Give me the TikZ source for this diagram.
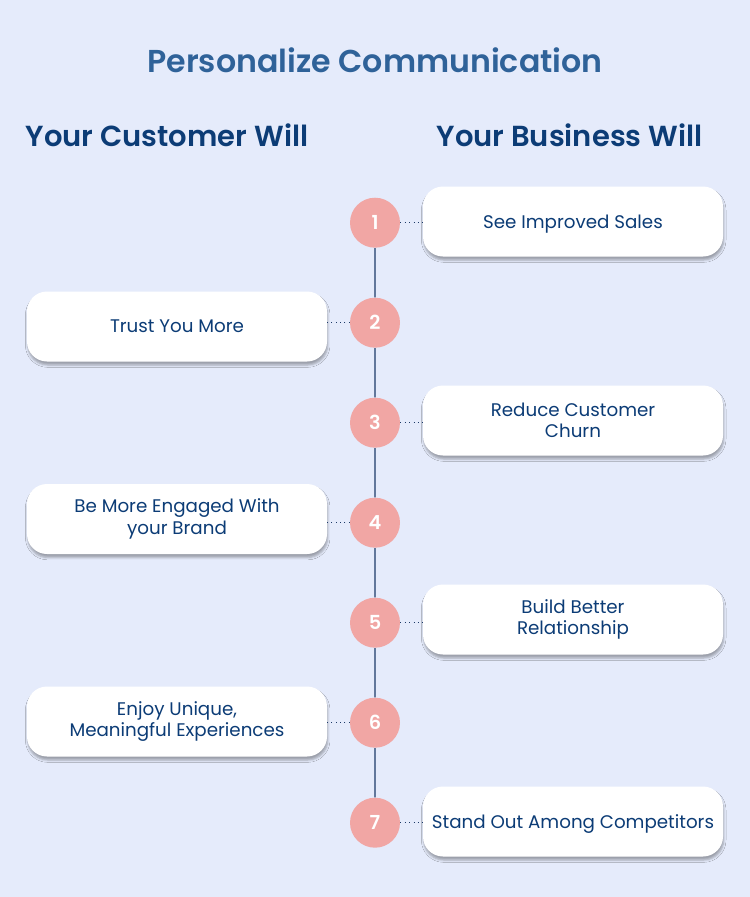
\documentclass[tikz,border=0pt]{standalone}
\usepackage{fontspec}
\setmainfont{Poppins}
\newfontfamily\headfont{Poppins SemiBold}
\usepackage{tikz}
\usetikzlibrary{shadows,shadows.blur}
\definecolor{bgblue}{HTML}{E5EBFB}
\definecolor{titleblue}{HTML}{2F6299}
\definecolor{navy}{HTML}{0C3C76}
\definecolor{pinkcirc}{HTML}{F1A6A4}
\definecolor{linenavy}{HTML}{1D3A68}

\begin{document}
\begin{tikzpicture}[scale=0.2]
	\tikzstyle{every node}+=[inner sep=0pt]
	\tikzstyle{maintitle}=[anchor=base, text=titleblue, font=\fontsize{18}{22}\headfont]
	\tikzstyle{sidehead}=[anchor=base, text=navy, font=\fontsize{16.5}{20}\headfont]
	\tikzstyle{item}=[fill=white, rounded corners=4mm, minimum width=60mm, minimum height=14mm, align=center, text=navy, font=\fontsize{10.4}{12.2}\selectfont, blur shadow={shadow xshift=0.4pt, shadow yshift=-2pt, shadow blur radius=1.3pt, shadow opacity=32}]
	\tikzstyle{oneline}=[text depth=0pt]
	\tikzstyle{num}=[circle, fill=pinkcirc, minimum size=10mm, text=white, font=\fontsize{11}{13}\headfont]
	\tikzstyle{link}=[linenavy, dotted, line width=0.5pt]
	\fill [bgblue] (0,0) rectangle (75,-89.7);
	\node [maintitle] (title) at (37.5,-7.2) {Personalize Communication};
	\node [sidehead] (custhead) at (16.7,-14.6) {Your Customer Will};
	\node [sidehead] (bizhead) at (56.95,-14.6) {Your Business Will};
	\node [num] (n1) at (37.5,-22.27) {1};
	\node [num] (n2) at (37.5,-32.27) {2};
	\node [num] (n3) at (37.5,-42.27) {3};
	\node [num] (n4) at (37.5,-52.27) {4};
	\node [num] (n5) at (37.5,-62.27) {5};
	\node [num] (n6) at (37.5,-72.27) {6};
	\node [num] (n7) at (37.5,-82.27) {7};
	\draw [linenavy, line width=0.6pt] (n1) -- (n2);
	\draw [linenavy, line width=0.6pt] (n2) -- (n3);
	\draw [linenavy, line width=0.6pt] (n3) -- (n4);
	\draw [linenavy, line width=0.6pt] (n4) -- (n5);
	\draw [linenavy, line width=0.6pt] (n5) -- (n6);
	\draw [linenavy, line width=0.6pt] (n6) -- (n7);
	\node [item, oneline] (b1) at (57.3,-22.15) {See Improved Sales};
	\node [item, oneline] (b2) at (17.7,-32.65) {Trust You More};
	\node [item] (b3) at (57.3,-42.05) {Reduce Customer\\Churn};
	\node [item] (b4) at (17.7,-51.9) {Be More Engaged With\\your Brand};
	\node [item] (b5) at (57.3,-61.95) {Build Better\\Relationship};
	\node [item] (b6) at (17.7,-72.15) {Enjoy Unique,\\Meaningful Experiences};
	\node [item, oneline] (b7) at (57.3,-82.15) {Stand Out Among Competitors};
	\draw [link] (n1.east) -- (n1.east -| b1.west);
	\draw [link] (n2.west) -- (n2.west -| b2.east);
	\draw [link] (n3.east) -- (n3.east -| b3.west);
	\draw [link] (n4.west) -- (n4.west -| b4.east);
	\draw [link] (n5.east) -- (n5.east -| b5.west);
	\draw [link] (n6.west) -- (n6.west -| b6.east);
	\draw [link] (n7.east) -- (n7.east -| b7.west);
\end{tikzpicture}
\end{document}
